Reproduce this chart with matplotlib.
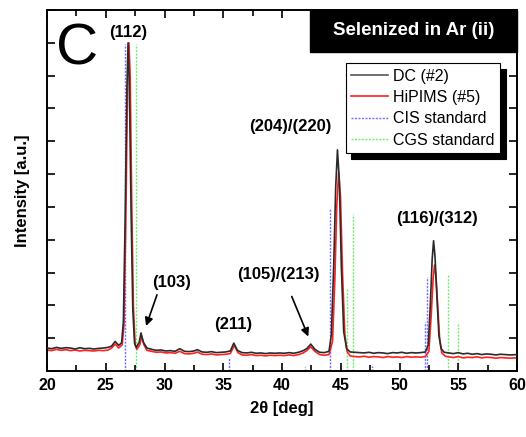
import matplotlib
matplotlib.use("Agg")
import matplotlib.pyplot as plt
from matplotlib.patches import Rectangle
from matplotlib.ticker import MultipleLocator, NullFormatter


# measured XRD patterns (2theta in deg, intensity in a.u.)
DC_X = [
    20.0, 20.4, 20.8, 21.2, 21.6, 22.0, 22.4, 22.8, 23.2, 23.6,
    24.0, 24.4, 24.8, 25.2, 25.5, 25.8, 26.1, 26.35, 26.5, 26.65,
    26.8, 26.9, 27.0, 27.15, 27.3, 27.45, 27.6, 27.85, 28.0, 28.2,
    28.5, 28.9, 29.3, 29.7, 30.1, 30.5, 30.9, 31.3, 31.7, 32.1,
    32.5, 32.8, 33.2, 33.6, 34.0, 34.4, 34.8, 35.2, 35.6, 35.9,
    36.2, 36.6, 37.0, 37.4, 37.8, 38.2, 38.6, 39.0, 39.4, 39.8,
    40.2, 40.6, 41.0, 41.4, 41.8, 42.1, 42.45, 42.8, 43.2, 43.6,
    44.0, 44.2, 44.4, 44.57, 44.72, 44.88, 45.05, 45.25, 45.5, 45.8,
    46.2, 46.6, 47.0, 47.4, 47.8, 48.2, 48.6, 49.0, 49.4, 49.8,
    50.2, 50.6, 51.0, 51.4, 51.8, 52.2, 52.45, 52.62, 52.78, 52.9,
    53.02, 53.18, 53.35, 53.55, 53.8, 54.2, 54.6, 55.0, 55.4, 55.8,
    56.2, 56.6, 57.0, 57.4, 57.8, 58.2, 58.6, 59.0, 59.4, 60.0,
]
DC_Y = [
    0.70, 0.68, 0.72, 0.69, 0.71, 0.70, 0.67, 0.71, 0.68, 0.69,
    0.67, 0.69, 0.70, 0.72, 0.76, 0.90, 0.78, 0.86, 1.5, 4.6,
    8.6, 10.0, 8.9, 5.0, 1.9, 0.85, 0.72, 0.88, 1.16, 0.88,
    0.70, 0.66, 0.63, 0.64, 0.61, 0.62, 0.60, 0.68, 0.60, 0.59,
    0.61, 0.65, 0.58, 0.57, 0.59, 0.56, 0.57, 0.58, 0.61, 0.85,
    0.63, 0.56, 0.55, 0.57, 0.54, 0.55, 0.53, 0.55, 0.54, 0.55,
    0.54, 0.56, 0.54, 0.57, 0.62, 0.68, 0.82, 0.66, 0.57, 0.56,
    0.60, 1.1, 3.2, 5.6, 6.74, 5.8, 3.2, 1.2, 0.68, 0.58,
    0.57, 0.56, 0.55, 0.57, 0.54, 0.56, 0.55, 0.53, 0.56, 0.55,
    0.57, 0.54, 0.56, 0.55, 0.56, 0.58, 0.80, 2.0, 3.4, 3.97,
    3.5, 2.3, 1.1, 0.68, 0.57, 0.55, 0.53, 0.56, 0.52, 0.54,
    0.51, 0.53, 0.50, 0.52, 0.51, 0.49, 0.51, 0.50, 0.49, 0.50,
]

HI_X = [
    20.0, 20.4, 20.8, 21.2, 21.6, 22.0, 22.4, 22.8, 23.2, 23.6,
    24.0, 24.4, 24.8, 25.2, 25.5, 25.8, 26.1, 26.4, 26.55, 26.7,
    26.85, 26.97, 27.08, 27.2, 27.35, 27.5, 27.65, 27.9, 28.05, 28.25,
    28.5, 28.9, 29.3, 29.7, 30.1, 30.5, 30.9, 31.3, 31.7, 32.1,
    32.5, 32.8, 33.2, 33.6, 34.0, 34.4, 34.8, 35.2, 35.6, 35.95,
    36.25, 36.6, 37.0, 37.4, 37.8, 38.2, 38.6, 39.0, 39.4, 39.8,
    40.2, 40.6, 41.0, 41.4, 41.8, 42.1, 42.45, 42.8, 43.2, 43.6,
    44.0, 44.3, 44.5, 44.66, 44.82, 44.98, 45.15, 45.35, 45.55, 45.8,
    46.2, 46.6, 47.0, 47.4, 47.8, 48.2, 48.6, 49.0, 49.4, 49.8,
    50.2, 50.6, 51.0, 51.4, 51.8, 52.2, 52.5, 52.7, 52.86, 52.98,
    53.1, 53.25, 53.42, 53.6, 53.9, 54.2, 54.6, 55.0, 55.4, 55.8,
    56.2, 56.6, 57.0, 57.4, 57.8, 58.2, 58.6, 59.0, 59.4, 60.0,
]
HI_Y = [
    0.64, 0.62, 0.66, 0.63, 0.65, 0.62, 0.64, 0.61, 0.63, 0.62,
    0.61, 0.63, 0.62, 0.64, 0.70, 0.82, 0.70, 0.80, 1.4, 4.4,
    8.6, 10.0, 9.0, 5.4, 2.0, 0.80, 0.66, 0.80, 1.05, 0.80,
    0.63, 0.60, 0.57, 0.58, 0.55, 0.56, 0.54, 0.60, 0.53, 0.52,
    0.54, 0.58, 0.51, 0.50, 0.52, 0.49, 0.50, 0.51, 0.53, 0.78,
    0.56, 0.49, 0.48, 0.50, 0.47, 0.48, 0.46, 0.48, 0.47, 0.48,
    0.47, 0.49, 0.47, 0.50, 0.55, 0.62, 0.74, 0.60, 0.50, 0.48,
    0.50, 0.9, 2.8, 5.0, 6.04, 5.3, 3.0, 1.1, 0.58, 0.46,
    0.44, 0.43, 0.45, 0.42, 0.44, 0.43, 0.41, 0.44, 0.42, 0.43,
    0.41, 0.44, 0.42, 0.43, 0.42, 0.44, 0.60, 1.7, 2.8, 3.23,
    2.9, 2.0, 0.95, 0.55, 0.45, 0.43, 0.41, 0.44, 0.40, 0.42,
    0.41, 0.43, 0.40, 0.42, 0.41, 0.39, 0.41, 0.40, 0.39, 0.40,
]

# reference patterns (stick positions and heights)
CIS_POS = [26.64, 30.6, 35.5, 41.96, 44.1, 47.7, 52.17, 52.31]
CIS_HEIGHT = [9.95, 0.08, 0.43, 0.12, 4.97, 0.15, 1.50, 2.87]
CGS_POS = [27.57, 45.56, 46.02, 54.16, 55.0]
CGS_HEIGHT = [9.95, 2.50, 4.79, 2.96, 1.43]

PEAK_LABELS = ["(112)", "(103)", "(211)", "(105)/(213)", "(204)/(220)", "(116)/(312)"]
PEAK_LABEL_X = [26.89, 30.64, 35.83, 39.70, 40.68, 53.23]
PEAK_LABEL_Y = [10.30, 2.71, 1.43, 2.93, 7.44, 4.66]

FONT = "Liberation Sans"


def make_plot() -> None:
    plt.rcParams["font.family"] = FONT
    fig = plt.figure(figsize=(5.26, 4.37), dpi=100)
    ax = fig.add_axes([47 / 526, 66 / 437, 470 / 526, 361 / 437])

    ax.vlines(CIS_POS, 0, CIS_HEIGHT, colors="#7070ff", linestyles=(0, (1.5, 1)), lw=1.0, zorder=1)
    ax.vlines(CGS_POS, 0, CGS_HEIGHT, colors="#70ee70", linestyles=(0, (1.5, 1)), lw=1.0, zorder=1)
    ax.plot(DC_X, DC_Y, color="#2b2b2b", lw=1.2, zorder=3)
    ax.plot(HI_X, HI_Y, color="#ff2020", lw=1.2, zorder=2)

    ax.set_xlim(20, 60)
    ax.set_ylim(0, 11)
    ax.xaxis.set_major_locator(MultipleLocator(5))
    ax.xaxis.set_minor_locator(MultipleLocator(2.5))
    ax.yaxis.set_major_locator(MultipleLocator(1))
    ax.yaxis.set_major_formatter(NullFormatter())
    ax.tick_params(which="both", direction="in", top=True, right=True, width=1.2)
    ax.tick_params(which="major", length=6, labelsize=11.5, pad=5)
    ax.tick_params(which="minor", length=4)
    for label in ax.get_xticklabels():
        label.set_fontweight("bold")
    for spine in ax.spines.values():
        spine.set_linewidth(1.4)

    ax.set_xlabel("2\u03b8 [deg]", fontsize=12, fontweight="bold", labelpad=6)
    ax.set_ylabel("Intensity [a.u.]", fontsize=12, fontweight="bold", labelpad=7)

    # panel letter and title box
    ax.text(20.8, 9.33, "C", fontsize=42, va="baseline", ha="left")
    ax.add_patch(Rectangle((0.5596, 0.8837), 0.4404, 0.1163, transform=ax.transAxes,
                           facecolor="black", edgecolor="black", zorder=5, clip_on=False))
    ax.text(0.7798, 0.942, "Selenized in Ar (ii)", transform=ax.transAxes, color="white",
            fontsize=13.5, fontweight="bold", ha="center", va="center", zorder=6)

    for text, x, y in zip(PEAK_LABELS, PEAK_LABEL_X, PEAK_LABEL_Y):
        ax.text(x, y, text, fontsize=12, fontweight="bold", ha="center", va="center")

    arrow = dict(arrowstyle="-|>", color="black", lw=1.2, mutation_scale=12, shrinkA=0, shrinkB=0)
    ax.annotate("", xy=(28.43, 1.37), xytext=(29.36, 2.32), arrowprops=arrow)
    ax.annotate("", xy=(42.24, 1.05), xytext=(40.83, 2.27), arrowprops=arrow)

    handles = [
        plt.Line2D([], [], color="#555555", lw=1.2),
        plt.Line2D([], [], color="#ff2020", lw=1.2),
        plt.Line2D([], [], color="#7070ff", lw=1.0, ls=(0, (1.5, 1))),
        plt.Line2D([], [], color="#70ee70", lw=1.0, ls=(0, (1.5, 1))),
    ]
    leg = ax.legend(handles, ["DC (#2)", "HiPIMS (#5)", "CIS standard", "CGS standard"],
                    loc="upper right", bbox_to_anchor=(500 / 526, 1 - 63 / 437),
                    bbox_transform=fig.transFigure, borderaxespad=0, fontsize=11.5,
                    fancybox=False, framealpha=1, edgecolor="black", handlelength=2.3,
                    handletextpad=0.3, labelspacing=0.4, borderpad=0.35,
                    shadow={"ox": 4, "oy": -4, "color": "black", "alpha": 1})
    leg.get_frame().set_linewidth(0.8)

    fig.savefig("out.png", dpi=100)
    plt.close(fig)


if __name__ == "__main__":
    make_plot()
